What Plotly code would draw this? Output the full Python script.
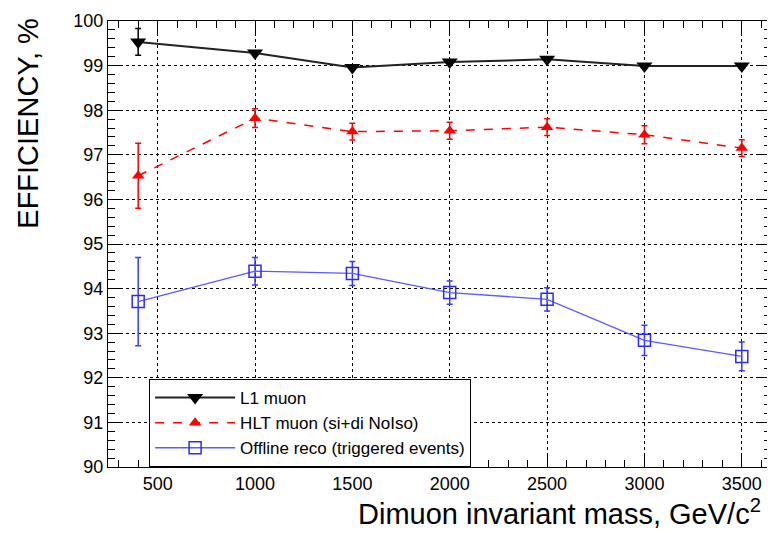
import plotly.graph_objects as go

mass = [400, 1000, 1500, 2000, 2500, 3000, 3500]

l1_eff = [99.53, 99.28, 98.96, 99.08, 99.14, 98.99, 98.99]
l1_err = [0.30, 0.04, 0.04, 0.04, 0.04, 0.04, 0.04]

hlt_eff = [96.53, 97.82, 97.52, 97.54, 97.62, 97.45, 97.15]
hlt_err = [0.73, 0.21, 0.19, 0.19, 0.19, 0.20, 0.19]

off_eff = [93.71, 94.39, 94.34, 93.91, 93.76, 92.84, 92.48]
off_err = [0.99, 0.31, 0.27, 0.26, 0.26, 0.34, 0.32]

x_ticks = [500, 1000, 1500, 2000, 2500, 3000, 3500]
y_ticks = list(range(90, 101))

FONT = "Liberation Sans, Arial, Helvetica, sans-serif"

fig = go.Figure()

fig.add_trace(go.Scatter(
    x=mass, y=l1_eff, name="L1 muon", mode="lines+markers",
    line=dict(color="#222222", width=2),
    marker=dict(symbol="triangle-down", size=14, color="black"),
    error_y=dict(type="data", array=l1_err, color="black", thickness=1.5, width=3),
))
fig.add_trace(go.Scatter(
    x=mass, y=hlt_eff, name="HLT muon (si+di NoIso)", mode="lines+markers",
    line=dict(color="red", width=1.5, dash="dash"),
    marker=dict(symbol="triangle-up", size=11, color="red"),
    error_y=dict(type="data", array=hlt_err, color="red", thickness=1.5, width=3),
))
fig.add_trace(go.Scatter(
    x=mass, y=off_eff, name="Offline reco (triggered events)", mode="lines+markers",
    line=dict(color="#5a5aff", width=1.3),
    marker=dict(symbol="square-open", size=12, color="#2a2aff", line=dict(width=1.5)),
    error_y=dict(type="data", array=off_err, color="#3a3aff", thickness=1.5, width=3),
))

# page has an 8px body margin, so the figure is sized/offset to compensate
fig.update_layout(
    width=767, height=525,
    margin=dict(l=100, r=3, t=9, b=66),
    paper_bgcolor="white", plot_bgcolor="white",
    font=dict(family=FONT, color="black", size=18),
    showlegend=True,
    legend=dict(
        x=0.062, y=0.0, xanchor="left", yanchor="bottom",
        bgcolor="white", bordercolor="black", borderwidth=1,
        font=dict(size=17, family=FONT), itemwidth=80,
    ),
)

fig.update_xaxes(
    range=[245, 3650], tickvals=x_ticks, ticktext=[str(v) for v in x_ticks],
    showline=True, linecolor="black", linewidth=1, mirror="allticks",
    ticks="inside", ticklen=12, tickcolor="black",
    minor=dict(dtick=100, ticks="inside", ticklen=7, tickcolor="black", showgrid=False),
    showgrid=True, gridcolor="black", griddash="dot", gridwidth=1,
    zeroline=False, tickfont=dict(size=18), ticklabeloverflow="allow",
)
fig.update_yaxes(
    range=[90, 100], tickvals=y_ticks, ticktext=[str(v) for v in y_ticks],
    showline=True, linecolor="black", linewidth=1, mirror="allticks",
    ticks="inside", ticklen=12, tickcolor="black",
    minor=dict(dtick=0.2, ticks="inside", ticklen=7, tickcolor="black", showgrid=False),
    showgrid=True, gridcolor="black", griddash="dot", gridwidth=1,
    zeroline=False, tickfont=dict(size=18), ticklabeloverflow="allow",
)

fig.add_annotation(
    text="EFFICIENCY, %", xref="paper", yref="paper",
    x=-0.122, y=1.011, xanchor="center", yanchor="top", textangle=-90,
    showarrow=False, font=dict(size=29, family=FONT),
)
fig.add_annotation(
    text="Dimuon invariant mass, GeV/c<sup>2</sup>", xref="paper", yref="paper",
    x=0.988, y=-0.055, xanchor="right", yanchor="top",
    showarrow=False, font=dict(size=29, family=FONT),
)

fig.write_html("out.html")
